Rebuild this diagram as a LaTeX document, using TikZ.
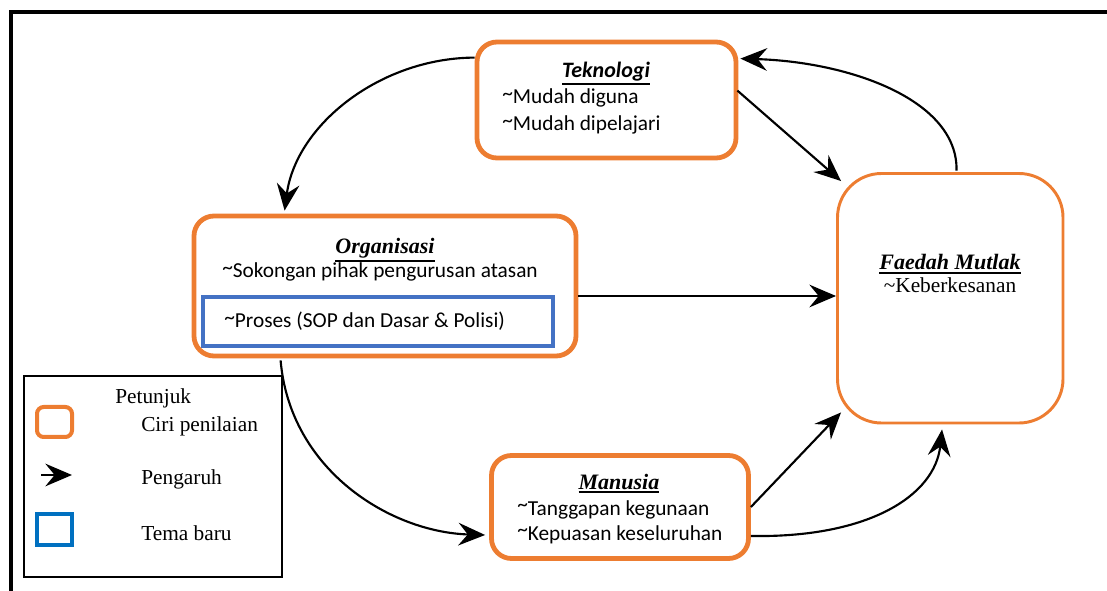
\documentclass[tikz,border=0pt]{standalone}
\usepackage{fontspec}
\setmainfont{Liberation Serif}
\newfontfamily\calibri{Carlito}
\usetikzlibrary{arrows.meta,fit,calc}
\definecolor{boxorange}{HTML}{ED7D31}
\definecolor{boxblue}{HTML}{4472C4}
\definecolor{legblue}{HTML}{0070C0}
\newcommand\thickul[1]{\leavevmode\vtop{\hbox{#1}\kern1.3pt\hrule height 1.3pt}}
\newcommand\hitilde{\raisebox{2.5pt}{\textasciitilde}}
\begin{document}
\begin{tikzpicture}[x=0.75pt,y=-0.75pt,
  obox/.style={draw=boxorange,line width=3.6pt,rounded corners=15pt,inner sep=0pt},
  fbox/.style={draw=boxorange,line width=2.2pt,rounded corners=33pt,inner sep=0pt},
  bbox/.style={draw=boxblue,line width=3pt,inner sep=0pt},
  arr/.style={line width=1.6pt,-{Stealth[length=20pt,width=17pt,inset=7pt]}},
  sans/.style={font=\calibri\fontsize{16}{19}\selectfont,inner sep=0pt},
  serif/.style={font=\fontsize{16}{19}\selectfont,inner sep=0pt},
  sanstitle/.style={font=\calibri\fontsize{16.5}{19}\selectfont\bfseries\itshape,inner sep=0pt},
  seriftitle/.style={font=\fontsize{16.5}{19}\selectfont\bfseries\itshape,inner sep=0pt}]
\useasboundingbox (0,0) rectangle (1107,591);
% outer frame
\draw[line width=3.2pt] (11,591) -- (11,12) -- (1107,12);

% boxes
\node[obox, fit={(477,42) (736,158)}] (tek) {};
\node[obox, fit={(194,216) (576,356)}] (org) {};
\node[bbox, fit={(203,297) (553,346)}] (tema) {};
\node[fbox, fit={(837.5,173.5) (1063,423)}] (fae) {};
\node[obox, fit={(491.5,455.5) (748.5,558.5)}] (man) {};

% texts
\node[sanstitle, anchor=base] (tekT) at (606,78) {\thickul{Teknologi}};
\node[sans, anchor=base west] (tek1) at (502,104) {\hitilde Mudah diguna};
\node[sans, anchor=base west] (tek2) at (502,131) {\hitilde Mudah dipelajari};

\node[seriftitle, anchor=base] (orgT) at (385,254) {\thickul{Organisasi}};
\node[sans, anchor=base west] (org1) at (222,278) {\hitilde Sokongan pihak pengurusan atasan};
\node[sans, anchor=base west] (org2) at (224,328) {\hitilde Proses (SOP dan Dasar \& Polisi)};

\node[seriftitle, anchor=base] (faeT) at (950,270) {\thickul{Faedah Mutlak}};
\node[serif, anchor=base] (fae1) at (950,293) {\textasciitilde Keberkesanan};

\node[seriftitle, anchor=base] (manT) at (619,489) {\thickul{Manusia}};
\node[sans, anchor=base west] (man1) at (517,515) {\hitilde Tanggapan kegunaan};
\node[sans, anchor=base west] (man2) at (517,540) {\hitilde Kepuasan keseluruhan};

% connectors
\draw[arr] ($(tek.north west)+(0,18)$) .. controls (380,58) and (296,125) .. ($(org.north west)+(93,-3)$);
\draw[arr] ($(fae.north west)+(120.5,-1.5)$) .. controls (958,100) and (850,62) .. ($(tek.north east)+(2,19)$);
\draw[arr] ($(tek.north east)+(-1,51)$) -- ($(fae.north west)+(5,9)$);
\coordinate (o4) at ($(org.east)+(0,10)$);
\draw[arr] (o4) -- (o4 -| fae.west);
\draw[arr] ($(org.south west)+(89,2)$) .. controls (290,470) and (390,532) .. ($(man.west)+(-4,28)$);
\draw[arr] ($(man.east)+(0,0)$) -- ($(fae.south west)+(5,-12)$);
\draw[arr] ($(man.east)+(0,29)$) .. controls (870,538) and (935,495) .. ($(fae.south west)+(106,5)$);

% legend
\node[draw=black, line width=1.2pt, inner sep=0pt, fit={(24,376) (282,577)}] (leg) {};
\node[serif, anchor=base west] (legT) at (115,404) {Petunjuk};
\node[draw=boxorange, line width=3pt, rounded corners=5pt, inner sep=0pt, fit={(37,407) (72,437)}] (legO) {};
\node[serif, anchor=base west] (legO1) at (141,432) {Ciri penilaian};
\coordinate (la) at (41,475);
\coordinate (lb) at (72,475);
\draw[arr] (la) -- (lb);
\node[serif, anchor=base west] (legA1) at (141,484) {Pengaruh};
\node[draw=legblue, line width=3pt, inner sep=0pt, fit={(37,514) (72,545)}] (legB) {};
\node[serif, anchor=base west] (legB1) at (141,540) {Tema baru};
\end{tikzpicture}
\end{document}
